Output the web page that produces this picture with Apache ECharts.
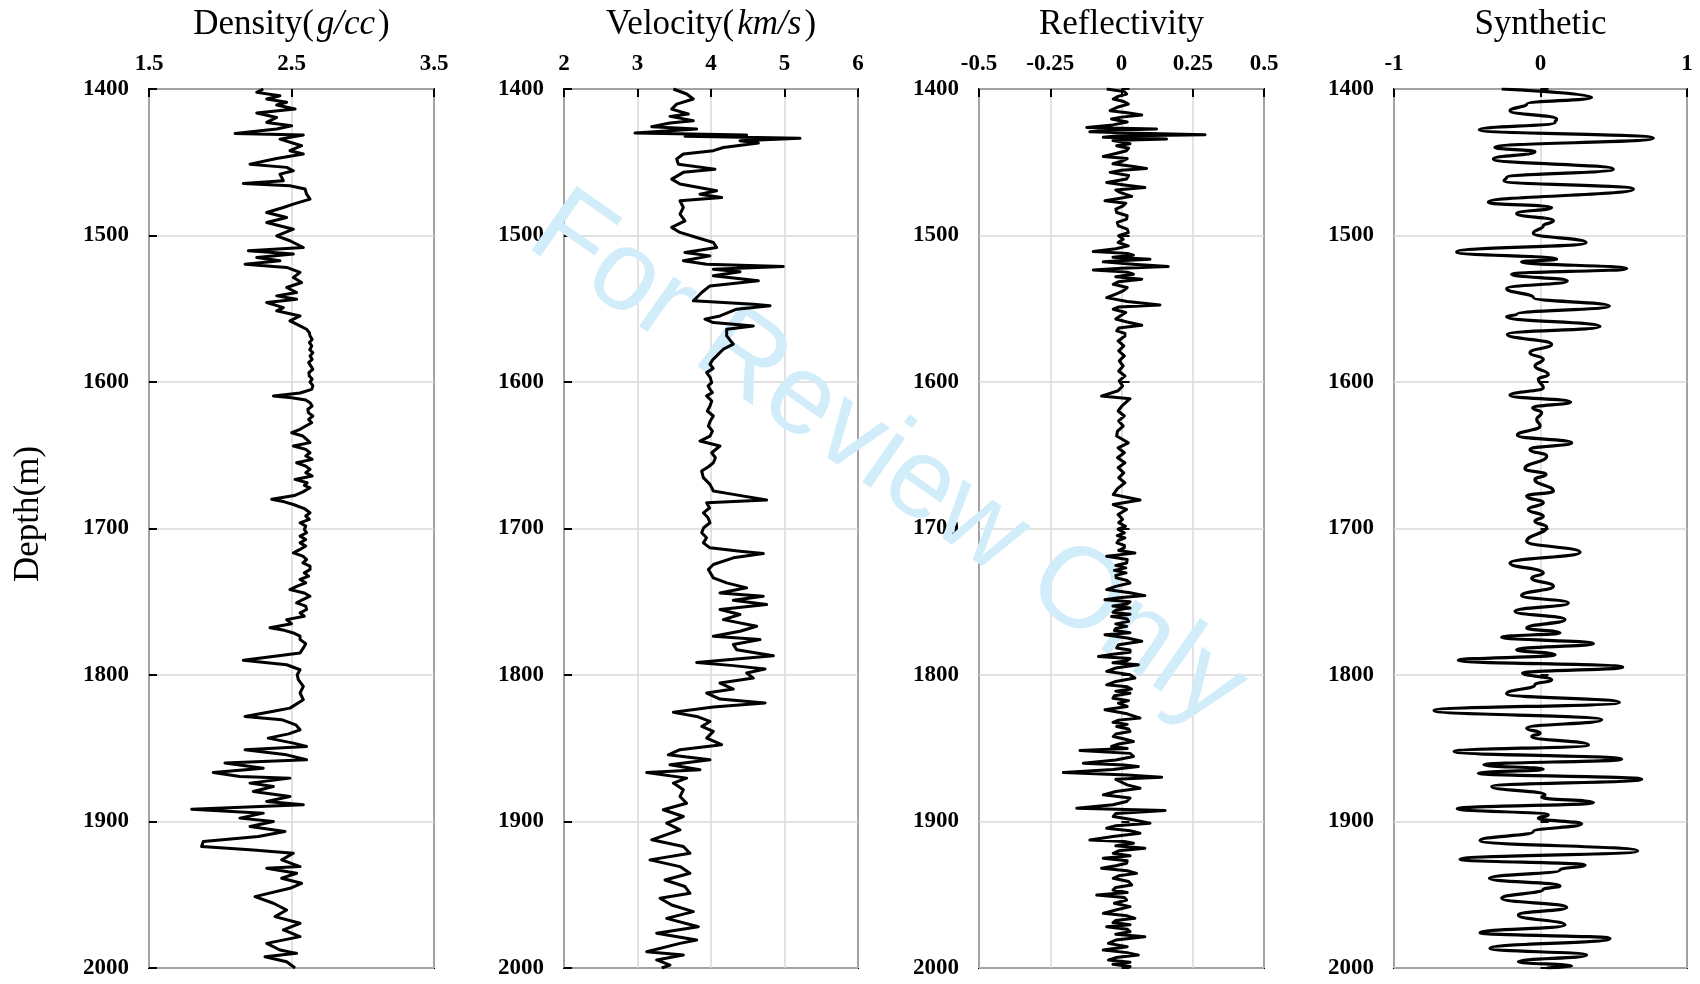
<!DOCTYPE html>
<html>
<head>
<meta charset="utf-8">
<script src="https://cdn.jsdelivr.net/npm/echarts@6/dist/echarts.min.js"></script>
<style>
html,body{margin:0;padding:0;background:#fff;}
#chart{width:1700px;height:984px;}
</style>
</head>
<body>
<div id="chart"></div>
<script>
// ---------- tick definitions ----------
const depthTicks = [1400, 1500, 1600, 1700, 1800, 1900, 2000];
const densityTicks = [1.5, 2.5, 3.5];
const velocityTicks = [2, 3, 4, 5, 6];
const reflectTicks = [-0.5, -0.25, 0, 0.25, 0.5];
const synthTicks = [-1, 0, 1];

// ---------- Density (g/cc): [depth, value] readings ----------
const densityReadings = [
[1400,2.302],[1402.3,2.256],[1404.6,2.419],[1406.8,2.326],[1409.1,2.466],[1410.9,2.396],[1413.7,2.525],[1416.4,2.256],[1419.4,2.396],[1422.8,2.326],[1425.1,2.501],[1427.3,2.396],[1430.3,2.104],[1431.4,2.583],[1434.2,2.419],[1438.7,2.571],[1442.1,2.489],[1444.4,2.583],[1447.4,2.396],[1451.3,2.209],[1453.5,2.466],[1455.8,2.513],[1458.1,2.419],[1462.6,2.443],[1464.5,2.162],[1466.1,2.489],[1468.3,2.595],[1471.8,2.606],[1475.2,2.630],[1478.6,2.513],[1480.9,2.443],[1484.3,2.326],[1487.7,2.466],[1491.1,2.326],[1495.7,2.513],[1500.2,2.396],[1503.6,2.489],[1508.2,2.583],
[1510.4,2.197],[1512.7,2.513],[1515.0,2.256],[1517.3,2.419],[1519.6,2.174],[1521.8,2.466],[1525.2,2.560],[1528.7,2.513],[1532.1,2.571],[1535.5,2.466],[1538.9,2.536],[1541.2,2.396],[1543.5,2.536],[1545.7,2.326],[1549.2,2.443],[1551.4,2.396],[1554.9,2.560],[1558.3,2.489],[1561.7,2.560],
[1564.0,2.606],[1566.3,2.625],[1568.5,2.630],[1571.0,2.645],[1573.0,2.625],[1575.4,2.642],[1578.0,2.628],[1580.0,2.650],[1582.2,2.630],[1584.5,2.645],[1586.7,2.620],[1589.0,2.635],[1591.3,2.650],[1593.6,2.622],[1595.9,2.625],[1598.0,2.645],[1600.0,2.630],[1602.5,2.650],[1605.0,2.642],[1607.5,2.560],[1609.5,2.373],[1610.7,2.501],[1612.3,2.600],[1614.1,2.630],[1616.4,2.645],[1618.6,2.615],[1620.9,2.618],[1623.2,2.650],[1625.5,2.620],[1627.8,2.642],[1630.0,2.600],[1632.3,2.560],[1634.6,2.501],[1636.9,2.580],[1639.1,2.606],[1641.4,2.630],[1643.7,2.513],[1646.0,2.600],[1648.3,2.630],[1650.5,2.600],[1652.8,2.645],[1655.1,2.536],[1657.4,2.600],[1659.6,2.630],[1661.9,2.600],[1664.2,2.645],[1666.5,2.525],[1668.8,2.610],[1670.5,2.590],[1672.2,2.630],[1675.0,2.580],[1677.5,2.520],[1680.1,2.361],[1681.8,2.450],[1683.6,2.513],[1686.4,2.590],[1689.3,2.630],[1691.5,2.600],[1693.8,2.625],[1696.1,2.560],[1698.4,2.600],[1700.6,2.590],[1702.9,2.606],[1705.2,2.560],[1707.5,2.600],[1709.8,2.560],[1712.0,2.600],[1714.3,2.560],[1716.6,2.513],[1718.9,2.580],[1721.2,2.606],[1723.5,2.580],[1725.7,2.630],[1728.0,2.630],[1730.3,2.590],[1732.5,2.620],[1734.8,2.560],[1737.1,2.600],[1739.4,2.540],[1741.7,2.489],[1744.0,2.590],[1746.2,2.630],[1748.5,2.580],[1750.8,2.536],[1753.0,2.600],[1755.3,2.606],[1757.6,2.560],[1759.9,2.590],[1762.2,2.466],[1765.0,2.500],[1767.8,2.349],[1769.5,2.450],[1771.3,2.513],[1773.5,2.560],[1775.8,2.560],[1778.6,2.600],[1781.5,2.583],
[1785.0,2.560],[1790.0,2.162],[1793.0,2.466],[1796.4,2.560],[1799.8,2.540],[1803.2,2.548],[1807.8,2.583],[1812.3,2.560],[1816.9,2.583],[1822.6,2.489],[1824.8,2.373],[1828.3,2.174],[1830.5,2.431],[1834.0,2.530],[1837.4,2.560],[1840.2,2.480],[1843.1,2.337],[1846.5,2.513],[1848.8,2.606],[1851.0,2.174],[1854.5,2.466],[1857.9,2.606],[1860.1,2.033],[1863.6,2.302],[1866.5,1.951],[1869.3,2.138],[1870.4,2.489],[1873.8,2.209],[1876.1,2.373],[1879.5,2.232],[1882.9,2.489],[1886.3,2.326],[1888.6,2.583],[1891.6,1.799],[1894.3,2.302],[1897.7,2.138],[1900.0,2.373],[1903.4,2.209],[1906.8,2.454],[1910.3,2.267],[1913.7,1.881],[1917.1,1.869],[1919.4,2.232],[1921.7,2.513],[1926.2,2.431],[1930.8,2.560],[1931.9,2.326],[1935.3,2.536],[1938.7,2.431],[1942.2,2.571],[1945.6,2.489],[1951.3,2.244],[1955.8,2.373],[1960.4,2.466],[1964.9,2.384],[1969.5,2.560],[1974.0,2.443],[1978.6,2.560],[1983.2,2.326],[1987.7,2.419],[1990.0,2.536],[1992.3,2.314],[1995.7,2.466],[2000,2.525]];

// ---------- Velocity (km/s): [depth, value] readings ----------
const velocityReadings = [
[1400,3.488],[1403.4,3.669],[1406.8,3.760],[1410.3,3.533],[1413.7,3.465],[1417.1,3.692],[1418.7,3.442],[1421.6,3.760],[1423.2,3.442],[1425.7,3.193],[1427.3,3.805],[1430.1,2.966],[1431.4,4.485],[1432.3,3.646],[1433.7,5.211],[1435.3,4.395],[1436.9,4.644],[1439.9,4.168],[1442.1,4.032],[1444.4,3.624],[1447.8,3.533],[1451.3,3.556],[1454.7,4.054],[1456.9,3.624],[1461.5,3.465],[1464.9,3.578],[1469.5,4.077],[1471.8,3.850],[1474.0,4.145],[1476.3,3.578],[1480.9,3.624],[1485.4,3.578],[1490.0,3.646],[1494.5,3.465],[1497.9,3.578],[1501.4,3.805],[1504.8,4.032],[1508.2,4.077],
[1511.6,3.646],[1513.9,3.986],[1517.3,3.624],[1519.6,3.941],[1521.1,4.984],[1523.0,4.032],[1524.8,4.395],[1527.5,4.032],[1530.9,4.644],[1534.4,3.986],[1538.9,3.873],[1544.6,3.760],[1546.9,4.576],[1548.0,4.803],[1550.3,4.349],[1554.9,4.122],[1557.1,3.918],[1559.4,4.032],[1561.7,4.576],[1564.0,4.213],[1568.5,4.213],[1574.2,4.304],[1577.6,4.168],[1582.2,4.077],[1585.0,4.020],[1587.9,3.986],[1590.7,4.030],[1593.6,3.941],[1597.0,3.990],[1600.4,4.009],[1602.7,3.960],[1605.0,3.986],[1607.2,4.020],[1609.5,3.941],[1613.0,4.010],[1616.4,3.986],[1619.8,3.950],[1623.2,4.032],[1626.6,3.990],[1630.0,3.964],[1633.5,4.020],[1636.9,3.986],[1640.3,3.850],[1643.7,4.122],[1648.3,4.009],[1651.7,4.060],[1655.1,4.032],[1658.0,3.960],[1660.8,3.873],[1665.3,3.896],[1669.9,3.986],[1674.4,4.032],[1676.7,4.304],[1680.6,4.757],[1682.4,3.941],[1686.0,3.980],[1689.3,3.896],[1692.7,3.960],[1696.1,3.986],[1699.5,3.900],[1702.9,3.873],[1706.3,3.940],[1709.8,3.896],[1713.2,3.986],[1715.5,4.395],[1717.1,4.712],[1720.0,4.304],[1724.6,4.032],[1728.0,3.964],[1733.7,4.032],[1737.1,4.213],[1740.5,4.485],[1744.0,4.122],[1746.2,4.712],[1749.0,4.304],[1751.9,4.757],[1755.3,4.122],[1758.7,4.395],[1762.2,4.168],[1766.7,4.621],[1770.1,4.395],[1773.5,4.032],[1775.8,4.667],[1779.2,4.304],
[1782.7,4.349],[1786.8,4.848],[1791.4,3.805],[1793.6,4.304],[1795.9,4.735],[1798.6,4.485],[1802.1,4.576],[1805.5,4.122],[1809.6,4.304],[1812.3,3.941],[1816.4,4.122],[1819.1,4.735],[1821.9,4.032],[1825.5,3.488],[1828.3,3.805],[1831.7,3.986],[1835.1,3.873],[1838.5,4.032],[1843.1,3.941],[1847.6,4.145],[1851.0,3.578],[1854.5,3.420],[1857.9,3.986],[1861.3,3.442],[1864.7,3.850],[1866.5,3.125],[1870.4,3.669],[1873.8,3.488],[1878.4,3.624],[1882.9,3.578],[1887.5,3.669],[1892.0,3.351],[1896.6,3.624],[1901.1,3.397],[1905.7,3.578],[1912.5,3.193],[1917.1,3.624],[1921.7,3.714],[1926.2,3.170],[1930.8,3.578],[1935.3,3.714],[1939.9,3.374],[1944.4,3.646],[1949.0,3.714],[1952.4,3.306],[1957.0,3.465],[1961.5,3.760],[1966.1,3.397],[1971.8,3.828],[1976.3,3.261],[1980.9,3.805],[1983.2,3.578],[1988.9,3.125],[1991.1,3.624],[1994.5,3.261],[1998.0,3.442],[2000,3.329]];

// ---------- Reflectivity: [depth, value] readings ----------
const reflectReadings = [
[1400,-0.052],[1401.8,0.010],[1403.4,0.018],[1405.0,-0.012],[1406.8,-0.029],[1408.5,0.008],[1410.3,0.024],[1412.5,-0.015],[1414.8,-0.040],[1416.2,0.020],[1417.8,0.071],[1419.2,0.000],[1420.5,-0.035],[1422.5,0.020],[1424.5,-0.030],[1426.2,-0.122],[1427.3,0.123],[1428.2,-0.050],[1429.2,-0.111],[1430.2,0.060],[1431.2,0.293],[1432.1,-0.020],[1433.0,-0.064],[1434.2,0.158],[1435.1,-0.030],[1436.0,-0.005],[1437.3,0.030],[1438.7,-0.017],[1440.4,0.025],[1442.1,0.018],[1444.0,-0.020],[1446.0,-0.064],[1447.5,0.020],[1449.0,0.006],[1451.0,-0.030],[1452.6,0.030],[1454.2,0.088],[1455.5,0.000],[1456.9,-0.040],[1459.0,0.025],[1461.5,0.018],[1463.8,-0.052],[1465.5,0.010],[1467.2,0.082],[1468.9,-0.020],[1470.6,-0.005],[1473.3,0.036],[1474.8,-0.010],[1476.3,-0.058],[1478.0,0.015],[1479.7,0.006],[1482.0,-0.020],[1484.3,-0.017],[1486.5,0.020],[1488.8,0.018],[1491.0,-0.015],[1493.4,-0.011],[1495.7,0.020],[1498.0,0.024],[1500.2,-0.010],[1502.5,0.006],[1504.8,-0.012],[1507.1,0.024],[1509.0,-0.020],[1510.9,-0.099],[1512.2,0.020],[1513.4,0.042],[1514.8,-0.030],[1516.2,0.100],[1517.1,0.010],[1518.0,-0.064],[1519.6,0.040],[1521.2,0.164],[1522.3,0.000],[1523.5,-0.099],[1525.0,0.020],[1526.4,0.042],[1528.1,-0.020],[1529.8,0.071],[1531.5,-0.010],[1533.3,-0.029],[1535.5,0.020],[1537.8,0.006],[1540.0,-0.020],[1542.4,-0.052],[1545.0,0.020],[1547.4,0.135],[1548.8,-0.010],[1550.3,-0.029],[1552.6,0.015],[1554.9,-0.005],[1557.0,-0.020],[1559.0,0.020],[1561.3,0.071],[1563.2,-0.010],[1565.1,-0.017],[1566.8,0.012],[1568.6,0.012],
[1572.0,-0.012],[1575.4,0.008],[1578.8,-0.010],[1582.2,0.010],[1585.6,-0.008],[1589.1,0.006],[1592.5,-0.010],[1595.9,0.012],[1599.3,-0.008],[1602.7,0.004],[1606.0,-0.012],[1609.6,-0.070],[1611.4,0.030],[1616.4,0.001],[1619.8,-0.012],[1623.2,0.010],[1626.6,-0.010],[1630.1,0.006],[1633.5,-0.014],[1636.9,-0.017],[1641.5,0.024],[1644.9,-0.012],[1648.3,0.010],[1651.7,-0.014],[1655.1,0.012],[1658.5,-0.012],[1662.0,0.008],[1665.4,-0.010],[1668.8,0.012],[1672.8,-0.014],[1676.8,-0.029],[1680.6,0.065],[1683.6,-0.029],[1687.0,0.018],[1690.4,-0.012],[1693.8,0.004],
[1696.0,-0.010],[1698.5,0.014],[1700.5,-0.012],[1703.0,0.010],[1704.8,-0.015],[1706.4,0.012],[1708.0,-0.010],[1709.8,-0.016],[1711.5,0.010],[1713.2,0.010],[1715.0,-0.010],[1716.7,0.047],[1718.0,-0.010],[1719.0,-0.052],[1721.2,0.020],[1723.5,0.018],[1725.2,-0.020],[1726.9,0.015],[1728.6,-0.025],[1730.3,0.016],[1732.0,-0.020],[1733.7,-0.018],[1735.5,0.020],[1737.2,0.030],[1739.5,-0.020],[1741.7,-0.052],[1743.8,0.030],[1745.8,0.082],[1747.2,-0.010],[1748.6,-0.058],[1750.0,0.030],[1751.5,0.020],[1752.9,-0.030],[1754.3,0.030],[1755.7,-0.020],[1757.2,-0.030],[1758.6,0.030],[1760.0,-0.035],[1761.7,0.020],[1763.4,0.025],[1765.1,-0.020],[1766.8,0.018],[1768.2,-0.020],[1769.7,-0.025],[1771.1,0.030],[1772.5,-0.058],[1774.8,0.020],[1777.0,0.071],[1779.3,-0.010],[1781.6,-0.017],[1783.0,0.030],[1784.5,0.030],[1785.9,-0.030],[1787.3,-0.081],[1788.7,0.030],[1790.2,0.020],[1791.6,-0.030],[1793.0,0.059],[1795.2,-0.020],[1797.5,-0.052],[1799.8,0.030],[1802.1,0.047],[1804.4,-0.020],[1806.7,-0.052],[1808.1,0.020],[1809.6,0.035],[1811.0,-0.020],[1812.4,0.030],[1814.1,-0.025],[1815.8,-0.030],[1817.5,0.025],[1819.2,-0.011],[1821.5,0.020],[1823.7,-0.058],[1826.5,0.020],[1829.4,0.065],[1830.8,-0.010],[1832.3,-0.030],[1833.7,0.020],[1835.1,-0.017],[1836.8,0.025],[1838.6,0.030],[1840.3,-0.020],[1842.0,-0.029],[1843.7,0.010],[1845.4,0.042],[1847.1,-0.010],[1848.8,-0.035],[1850.2,0.020],[1851.5,-0.146],[1853.5,0.030],[1855.6,0.042],[1858.0,-0.020],[1860.2,-0.134],[1861.4,0.010],[1862.5,0.059],[1864.5,-0.030],[1866.6,-0.204],[1868.2,0.020],[1869.8,0.141],[1871.2,-0.020],[1872.7,-0.005],[1875.0,0.020],[1877.3,0.065],[1879.5,-0.020],[1881.8,-0.064],[1884.0,0.030],[1886.4,0.018],[1888.6,-0.030],[1890.9,-0.157],[1892.5,0.153],[1894.5,-0.020],[1896.6,-0.029],[1898.8,0.040],[1901.2,0.100],[1902.9,-0.020],[1904.6,-0.052],[1906.3,0.030],[1908.0,0.065],[1910.3,-0.030],[1912.6,-0.111],[1913.7,0.010],[1914.9,0.042],[1916.6,-0.020],[1918.3,0.082],[1920.0,-0.010],[1921.7,-0.029],[1923.4,0.030],[1925.1,-0.064],[1926.8,0.020],[1928.5,0.018],[1930.2,-0.020],[1931.9,-0.070],[1933.6,0.020],[1935.4,0.053],[1937.1,-0.010],[1938.8,-0.029],[1941.0,0.025],[1943.3,0.036],[1945.0,-0.020],[1946.8,-0.030],[1948.5,0.020],[1950.2,-0.087],[1951.9,0.010],[1953.6,0.018],[1955.8,-0.025],[1958.1,0.030],[1960.4,-0.020],[1962.7,-0.064],[1964.4,0.020],[1966.1,0.047],[1967.5,-0.020],[1969.0,-0.030],[1970.4,0.030],[1971.8,-0.052],[1973.5,0.020],[1975.2,0.030],[1976.9,-0.020],[1978.6,0.082],[1980.9,-0.020],[1983.2,-0.046],[1985.5,0.020],[1987.7,-0.064],[1989.5,0.020],[1991.2,0.059],[1992.9,-0.020],[1994.6,-0.046],[1996.0,0.030],[1997.5,-0.030],[1999.0,0.030],[2000,0.018]];

// ---------- Synthetic: [depth, value] readings ----------
const synthReadings = [
[1400,-0.265],[1405.7,0.349],[1410.3,-0.094],[1414.8,-0.208],[1420.5,0.110],[1422.8,0.099],[1427.8,-0.418],[1433.5,0.770],[1439.9,-0.311],[1442.8,-0.038],[1447.8,-0.322],[1454.7,0.497],[1460.4,-0.231],[1462.6,-0.249],[1468.3,0.634],[1477.4,-0.356],[1480.9,0.076],[1485.0,-0.163],[1490.0,0.088],[1493.4,0.019],[1498.4,-0.049],[1504.8,0.311],[1511.2,-0.572],[1516.2,0.110],[1518.0,-0.129],[1522.6,0.588],[1526.4,-0.197],[1531.0,0.183],[1536.2,-0.231],[1542.4,-0.049],[1548.1,0.470],[1553.8,-0.163],[1555.4,-0.231],[1562.2,0.406],[1567.4,-0.226],[1574.3,0.076],[1580.0,-0.072],[1584.5,0.019],[1589.1,-0.038],[1594.8,0.053],[1598.2,-0.015],[1603.9,0.019],[1609.1,-0.208],[1613.7,0.206],[1617.5,-0.053],[1621.0,0.008],[1625.5,-0.026],[1630.1,-0.003],[1636.4,-0.158],[1641.5,0.213],[1646.0,-0.072],[1650.6,0.042],[1659.2,-0.106],[1663.1,0.038],[1666.5,-0.038],[1674.5,0.088],[1677.9,-0.094],[1682.5,0.019],[1687.0,-0.083],[1691.6,0.019],[1695.0,-0.038],
[1699.0,0.042],[1708.7,-0.094],[1716.2,0.270],[1723.5,-0.208],[1730.3,0.019],[1733.8,-0.060],[1739.4,0.088],[1745.8,-0.129],[1750.8,0.190],[1756.5,-0.174],[1762.2,0.167],[1767.9,-0.094],[1771.3,0.133],[1774.1,-0.265],[1778.6,0.361],[1782.7,-0.163],[1786.2,0.099],[1790.0,-0.561],[1794.6,0.561],[1798.7,-0.122],[1803.2,0.076],[1806.7,-0.038],[1812.8,-0.231],[1818.7,0.538],[1824.2,-0.727],[1830.6,0.418],[1836.3,-0.094],[1839.7,-0.003],[1842.0,-0.060],[1847.7,0.327],[1852.2,-0.590],[1857.5,0.554],[1861.3,-0.386],[1864.3,0.019],[1867.0,-0.424],[1871.1,0.691],[1876.1,-0.333],[1881.8,0.031],[1883.4,0.008],[1887.1,0.361],[1891.2,-0.568],[1895.5,0.053],[1897.8,-0.015],[1901.6,0.281],[1906.9,-0.049],[1913.0,-0.413],[1920.1,0.663],[1925.8,-0.549],[1929.7,0.304],[1933.1,0.133],[1938.8,-0.349],[1944.0,0.133],[1946.3,0.019],[1952.4,-0.265],[1958.6,0.179],[1963.8,-0.151],[1970.7,0.167],[1975.9,-0.413],[1979.8,0.474],[1986.6,-0.345],[1991.2,0.315],[1995.7,-0.151],[1998.7,0.213],[2000,0.042]];

// ---------- build ----------
function toPoints(readings){ return readings.map(r => [r[1], r[0]]); }

const SERIF = '"Liberation Serif", "Times New Roman", serif';
const gridLefts = [149, 564, 979, 1394];
const gridWidths = [285, 294, 285, 293];
const panelTicks = [densityTicks, velocityTicks, reflectTicks, synthTicks];
const panelNames = ['Density({i|g/cc})', 'Velocity({i|km/s})', 'Reflectivity', 'Synthetic'];
const panelData = [densityReadings, velocityReadings, reflectReadings, synthReadings].map(toPoints);

const grids = [], xAxes = [], yAxes = [], series = [];
for (let i = 0; i < 4; i++) {
  const t = panelTicks[i];
  grids.push({left: gridLefts[i], top: 89, width: gridWidths[i], height: 879,
    show: true, borderColor: '#000', borderWidth: 2, backgroundColor: 'transparent'});
  xAxes.push({
    type: 'value', gridIndex: i, position: 'top',
    min: t[0], max: t[t.length-1], interval: t[1]-t[0],
    name: panelNames[i], nameLocation: 'middle', nameGap: 47,
    nameTextStyle: {fontFamily: SERIF, fontSize: 35, color: '#000',
      rich: {i: {fontFamily: SERIF, fontStyle: 'italic', fontSize: 35, color: '#000', padding: [0, 3, 0, 3]}}},
    axisLine: {show: false},
    axisTick: {show: true, inside: true, length: 8, lineStyle: {color: '#000', width: 2}},
    axisLabel: {fontFamily: SERIF, fontWeight: 'bold', fontSize: 23, color: '#000', margin: 13,
      showMinLabel: true, showMaxLabel: true, formatter: v => String(v)},
    splitLine: {show: true, lineStyle: {color: '#d9d9d9', width: 1.5}}
  });
  yAxes.push({
    type: 'value', gridIndex: i, inverse: true,
    min: depthTicks[0], max: depthTicks[depthTicks.length-1], interval: depthTicks[1]-depthTicks[0],
    axisLine: {show: false},
    axisTick: {show: true, inside: true, length: 8, lineStyle: {color: '#000', width: 2}},
    axisLabel: {fontFamily: SERIF, fontWeight: 'bold', fontSize: 23, color: '#000', margin: 20,
      showMinLabel: true, showMaxLabel: true, formatter: v => String(v)},
    splitLine: {show: true, lineStyle: {color: '#d9d9d9', width: 1.5}}
  });
  series.push({
    type: 'line', xAxisIndex: i, yAxisIndex: i, data: panelData[i],
    showSymbol: false, symbol: 'none', z: 5,
    smooth: i === 3 ? 0.5 : false, smoothMonotone: i === 3 ? 'y' : undefined,
    lineStyle: {color: '#000', width: i === 3 ? 3.2 : 3, join: 'round'}
  });
}

const chart = echarts.init(document.getElementById('chart'), null, {renderer: 'canvas'});
chart.setOption({
  animation: false,
  backgroundColor: '#fff',
  grid: grids, xAxis: xAxes, yAxis: yAxes, series: series,
  graphic: [
    {type: 'text', x: 29, y: 514, rotation: Math.PI/2, z: 10,
     style: {text: 'Depth(m)', font: '35px ' + SERIF, fill: '#000', align: 'center', verticalAlign: 'middle'}},
    {type: 'text', x: 887, y: 461, rotation: -35 * Math.PI / 180, z: 1,
     style: {text: 'For Review Only', font: '114px "Liberation Sans", Arial, sans-serif', fill: '#d2edfa',
       align: 'center', verticalAlign: 'middle'}}
  ]
});
</script>
</body>
</html>
